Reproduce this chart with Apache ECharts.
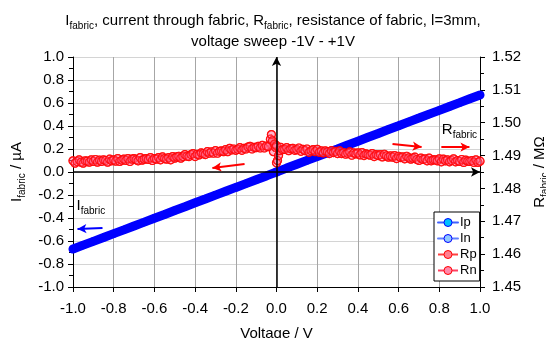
<!DOCTYPE html>
<html>
<head>
<meta charset="utf-8">
<script src="https://cdn.jsdelivr.net/npm/echarts@6/dist/echarts.min.js"></script>
<style>
  html, body { margin: 0; padding: 0; background: #fff; }
  #app { width: 546px; height: 338px; }
</style>
</head>
<body>
<div id="app"></div>
<script>
// current, negative half of the sweep (uA)
var inVolt = [-1.00, -0.95, -0.90, -0.85, -0.80, -0.75, -0.70, -0.65, -0.60, -0.55, -0.50, -0.45, -0.40, -0.35, -0.30, -0.25, -0.20, -0.15, -0.10, -0.05, 0.00];
var inCurr = [-0.670, -0.636, -0.603, -0.570, -0.536, -0.503, -0.469, -0.436, -0.402, -0.369, -0.335, -0.302, -0.268, -0.235, -0.201, -0.168, -0.134, -0.101, -0.067, -0.034, 0.000];
// current, positive half
var ipVolt = [0.00, 0.05, 0.10, 0.15, 0.20, 0.25, 0.30, 0.35, 0.40, 0.45, 0.50, 0.55, 0.60, 0.65, 0.70, 0.75, 0.80, 0.85, 0.90, 0.95, 1.00];
var ipCurr = [0.000, 0.034, 0.067, 0.101, 0.134, 0.168, 0.201, 0.235, 0.268, 0.302, 0.335, 0.369, 0.402, 0.436, 0.469, 0.503, 0.536, 0.570, 0.603, 0.637, 0.670];

// resistance, negative half (MOhm)
var rnVolt = [
  -1.00, -0.99, -0.98, -0.97, -0.96, -0.95, -0.94, -0.93, -0.92, -0.91,
  -0.90, -0.89, -0.88, -0.87, -0.86, -0.85, -0.84, -0.83, -0.82, -0.81,
  -0.80, -0.79, -0.78, -0.77, -0.76, -0.75, -0.74, -0.73, -0.72, -0.71,
  -0.70, -0.69, -0.68, -0.67, -0.66, -0.65, -0.64, -0.63, -0.62, -0.61,
  -0.60, -0.59, -0.58, -0.57, -0.56, -0.55, -0.54, -0.53, -0.52, -0.51,
  -0.50, -0.49, -0.48, -0.47, -0.46, -0.45, -0.44, -0.43, -0.42, -0.41,
  -0.40, -0.39, -0.38, -0.37, -0.36, -0.35, -0.34, -0.33, -0.32, -0.31,
  -0.30, -0.29, -0.28, -0.27, -0.26, -0.25, -0.24, -0.23, -0.22, -0.21,
  -0.20, -0.19, -0.18, -0.17, -0.16, -0.15, -0.14, -0.13, -0.12, -0.11,
  -0.10, -0.09, -0.08, -0.07, -0.06, -0.05, -0.04,
  -0.03, -0.025, -0.02, -0.015, -0.01, -0.005, 0.00];
var rnRes = [
  1.4884, 1.4877, 1.4882, 1.4887, 1.4880, 1.4877, 1.4884, 1.4883, 1.4880, 1.4887,
  1.4882, 1.4888, 1.4880, 1.4886, 1.4882, 1.4887, 1.4885, 1.4880, 1.4889, 1.4884,
  1.4887, 1.4883, 1.4891, 1.4882, 1.4886, 1.4889, 1.4885, 1.4891, 1.4882, 1.4889,
  1.4891, 1.4887, 1.4884, 1.4894, 1.4886, 1.4889, 1.4891, 1.4888, 1.4894, 1.4885,
  1.4891, 1.4889, 1.4894, 1.4887, 1.4896, 1.4891, 1.4889, 1.4894, 1.4887, 1.4897,
  1.4892, 1.4896, 1.4898, 1.4892, 1.4897, 1.4903, 1.4898, 1.4897, 1.4903, 1.4906,
  1.4897, 1.4904, 1.4902, 1.4908, 1.4906, 1.4903, 1.4912, 1.4907, 1.4911, 1.4907,
  1.4915, 1.4907, 1.4913, 1.4914, 1.4912, 1.4918, 1.4912, 1.4922, 1.4917, 1.4920,
  1.4916, 1.4919, 1.4924, 1.4916, 1.4922, 1.4920, 1.4926, 1.4928, 1.4920, 1.4925,
  1.4924, 1.4928, 1.4923, 1.4931, 1.4923, 1.4929, 1.4927,
  1.4950, 1.4964, 1.4945, 1.4912, 1.4935, 1.4925, 1.4930];
// resistance, positive half
var rpVolt = [
  0.00, 0.005, 0.01, 0.015, 0.02, 0.03,
  0.04, 0.05, 0.06, 0.07, 0.08, 0.09, 0.10, 0.11, 0.12, 0.13,
  0.14, 0.15, 0.16, 0.17, 0.18, 0.19, 0.20, 0.21, 0.22, 0.23,
  0.24, 0.25, 0.26, 0.27, 0.28, 0.29, 0.30, 0.31, 0.32, 0.33,
  0.34, 0.35, 0.36, 0.37, 0.38, 0.39, 0.40, 0.41, 0.42, 0.43,
  0.44, 0.45, 0.46, 0.47, 0.48, 0.49, 0.50, 0.51, 0.52, 0.53,
  0.54, 0.55, 0.56, 0.57, 0.58, 0.59, 0.60, 0.61, 0.62, 0.63,
  0.64, 0.65, 0.66, 0.67, 0.68, 0.69, 0.70, 0.71, 0.72, 0.73,
  0.74, 0.75, 0.76, 0.77, 0.78, 0.79, 0.80, 0.81, 0.82, 0.83,
  0.84, 0.85, 0.86, 0.87, 0.88, 0.89, 0.90, 0.91, 0.92, 0.93,
  0.94, 0.95, 0.96, 0.97, 0.98, 0.99, 1.00];
var rpRes = [
  1.4878, 1.4885, 1.4900, 1.4915, 1.4925, 1.4918,
  1.4919, 1.4924, 1.4915, 1.4921, 1.4922, 1.4916, 1.4918, 1.4923, 1.4913, 1.4919,
  1.4915, 1.4920, 1.4910, 1.4915, 1.4918, 1.4912, 1.4919, 1.4910, 1.4914, 1.4908,
  1.4914, 1.4911, 1.4906, 1.4915, 1.4909, 1.4913, 1.4906, 1.4914, 1.4906, 1.4909,
  1.4904, 1.4907, 1.4911, 1.4901, 1.4908, 1.4905, 1.4908, 1.4902, 1.4909, 1.4900,
  1.4905, 1.4903, 1.4901, 1.4906, 1.4897, 1.4903, 1.4900, 1.4903, 1.4896, 1.4904,
  1.4899, 1.4895, 1.4899, 1.4895, 1.4900, 1.4891, 1.4898, 1.4894, 1.4896, 1.4890,
  1.4898, 1.4893, 1.4889, 1.4892, 1.4895, 1.4888, 1.4885, 1.4892, 1.4888, 1.4890,
  1.4884, 1.4892, 1.4884, 1.4887, 1.4887, 1.4884, 1.4890, 1.4881, 1.4889, 1.4884,
  1.4887, 1.4881, 1.4885, 1.4890, 1.4881, 1.4885, 1.4882, 1.4888, 1.4879, 1.4886,
  1.4883, 1.4882, 1.4885, 1.4879, 1.4887, 1.4879, 1.4883];

var FONT = '"Liberation Sans", Arial, sans-serif';

function zip(xs, ys) {
  var out = [];
  for (var i = 0; i < xs.length; i++) out.push([xs[i], ys[i]]);
  return out;
}
function fmt(v, d) {
  if (Math.abs(v) < 1e-9) v = 0;
  return v.toFixed(d);
}

var rich = {
  t: { fontSize: 15, lineHeight: 21, color: '#000', fontFamily: FONT, fontWeight: 'normal' },
  s: { fontSize: 10, lineHeight: 14, verticalAlign: 'bottom', color: '#000', fontFamily: FONT, fontWeight: 'normal' }
};

var redMarker = { color: 'rgba(255,120,160,0.35)', borderColor: 'rgba(255,0,0,0.85)', borderWidth: 1.2 };

var blueSeries = function (name, data) {
  return {
    name: name, type: 'line', data: data, xAxisIndex: 0, yAxisIndex: 0,
    symbol: 'circle', symbolSize: 8, showSymbol: true, showAllSymbol: true,
    lineStyle: { color: '#0000ff', width: 9, cap: 'round' },
    itemStyle: { color: '#0000ff', borderWidth: 0 },
    animation: false, z: 2
  };
};
var redSeries = function (name, data) {
  return {
    name: name, type: 'line', data: data, xAxisIndex: 0, yAxisIndex: 1,
    symbol: 'circle', symbolSize: 8, showSymbol: true, showAllSymbol: true,
    lineStyle: { color: '#ff0000', width: 1 },
    itemStyle: redMarker,
    animation: false, z: 3
  };
};
// every measured point as its own marker, so the dense band is complete
var redDots = function (name, data) {
  return {
    name: name, type: 'scatter', data: data, xAxisIndex: 0, yAxisIndex: 1,
    symbol: 'circle', symbolSize: 8, itemStyle: redMarker,
    large: false, progressive: 0, animation: false, silent: true, z: 3
  };
};

var chart = echarts.init(document.getElementById('app'), null, { renderer: 'canvas' });

var option = {
  backgroundColor: '#fff',
  animation: false,
  title: {
    left: 'center', top: 5,
    text: '{t|I}{s|fabric}{t|, current through fabric, R}{s|fabric}{t|, resistance of fabric, l=3mm,}\n{t|voltage sweep -1V - +1V}',
    textStyle: { fontWeight: 'normal', rich: rich }
  },
  grid: { left: 73, right: 66, top: 57, bottom: 51, containLabel: false, outerBoundsMode: 'none' },
  legend: {
    orient: 'vertical', left: 434, top: 212,
    padding: [4, 3, 4, 3], itemGap: 3, itemWidth: 20, itemHeight: 10,
    backgroundColor: '#fff', borderColor: '#000', borderWidth: 1, borderRadius: 0,
    textStyle: { fontSize: 13, fontFamily: FONT, color: '#000', padding: [0, 0, 0, -3] },
    data: [
      { name: 'Ip', itemStyle: { color: '#00c0ff', borderColor: '#0000ff', borderWidth: 1 }, lineStyle: { color: '#4060ff', width: 2 } },
      { name: 'In', itemStyle: { color: '#90c8ff', borderColor: '#0000ff', borderWidth: 1 }, lineStyle: { color: '#6080ff', width: 2 } },
      { name: 'Rp', itemStyle: { color: '#ff8090', borderColor: '#ff0000', borderWidth: 1 }, lineStyle: { color: '#ff4040', width: 2 } },
      { name: 'Rn', itemStyle: { color: '#ff88aa', borderColor: '#ff0000', borderWidth: 1 }, lineStyle: { color: '#ff4060', width: 2 } }
    ],
    z: 10
  },
  xAxis: {
    type: 'value', min: -1, max: 1, interval: 0.2,
    name: 'Voltage / V', nameLocation: 'middle', nameGap: 39,
    nameTextStyle: { fontSize: 15, fontFamily: FONT, color: '#000' },
    axisLine: { onZero: false, lineStyle: { color: '#000', width: 1 } },
    axisTick: { show: true, length: 5, inside: false, lineStyle: { color: '#000' } },
    axisLabel: { fontSize: 15, fontFamily: FONT, color: '#000', margin: 14, formatter: function (v) { return fmt(v, 1); } },
    splitLine: { show: true, lineStyle: { color: '#a6a6a6', width: 1 } }
  },
  yAxis: [
    {
      type: 'value', min: -1, max: 1, interval: 0.2, position: 'left',
      name: '{t|I}{s|fabric}{t| / µA}', nameLocation: 'middle', nameGap: 45, nameRotate: 90,
      nameTextStyle: { rich: rich },
      axisLine: { show: true, onZero: false, lineStyle: { color: '#000', width: 1 } },
      axisTick: { show: true, length: 5, lineStyle: { color: '#000' } },
      minorTick: { show: true, splitNumber: 2, length: 4, lineStyle: { color: '#000' } },
      axisLabel: { fontSize: 15, fontFamily: FONT, color: '#000', margin: 9, formatter: function (v) { return fmt(v, 1); } },
      splitLine: { show: true, lineStyle: { color: '#d4d4d4', width: 1 } }
    },
    {
      type: 'value', min: 1.45, max: 1.52, interval: 0.01, position: 'right',
      name: '{t|R}{s|fabric}{t| / MΩ}', nameLocation: 'middle', nameGap: 47, nameRotate: 90,
      nameTextStyle: { rich: rich },
      axisLine: { show: true, onZero: false, lineStyle: { color: '#000', width: 1 } },
      axisTick: { show: true, length: 5, lineStyle: { color: '#000' } },
      minorTick: { show: true, splitNumber: 2, length: 4, lineStyle: { color: '#000' } },
      axisLabel: { fontSize: 15, fontFamily: FONT, color: '#000', margin: 12, formatter: function (v) { return fmt(v, 2); } },
      splitLine: { show: false }
    }
  ],
  series: [
    blueSeries('In', zip(inVolt, inCurr)),
    blueSeries('Ip', zip(ipVolt, ipCurr)),
    redSeries('Rn', zip(rnVolt, rnRes)),
    redSeries('Rp', zip(rpVolt, rpRes)),
    redDots('Rn dots', zip(rnVolt, rnRes)),
    redDots('Rp dots', zip(rpVolt, rpRes)),
    {
      // zero axes, arrows and notes
      name: 'marks', type: 'line', data: [], xAxisIndex: 0, yAxisIndex: 0,
      silent: true, animation: false, z: 5,
      markLine: {
        silent: true, animation: false,
        symbol: ['none', 'arrow'], symbolSize: [7, 9],
        label: { show: false },
        data: [
          [{ coord: [0, -1], lineStyle: { color: '#000', width: 1.5, type: 'solid' }, symbolSize: [6, 8] }, { coord: [0, 1] }],
          [{ coord: [-1, 0], lineStyle: { color: '#000', width: 1.5, type: 'solid' }, symbolSize: [6, 8] }, { coord: [1, 0] }],
          [{ coord: [-0.157, 0.07], lineStyle: { color: '#ff0000', width: 2, type: 'solid' } }, { coord: [-0.315, 0.035] }],
          [{ coord: [0.57, 0.243], lineStyle: { color: '#ff0000', width: 2, type: 'solid' } }, { coord: [0.713, 0.217] }],
          [{ coord: [0.81, 0.217], lineStyle: { color: '#ff0000', width: 2, type: 'solid' } }, { coord: [0.948, 0.217] }],
          [{ coord: [-0.855, -0.487], lineStyle: { color: '#0000ff', width: 2, type: 'solid' } }, { coord: [-0.978, -0.496] }]
        ]
      },
      markPoint: {
        silent: true, animation: false,
        symbol: 'circle', symbolSize: 1,
        itemStyle: { color: 'rgba(0,0,0,0)' },
        label: { show: true, position: 'right', distance: 0, rich: rich },
        data: [
          { coord: [-0.985, -0.296], label: { formatter: '{t|I}{s|fabric}' } },
          { coord: [0.81, 0.365], label: { formatter: '{t|R}{s|fabric}' } }
        ]
      }
    }
  ]
};

chart.setOption(option);
</script>
</body>
</html>
